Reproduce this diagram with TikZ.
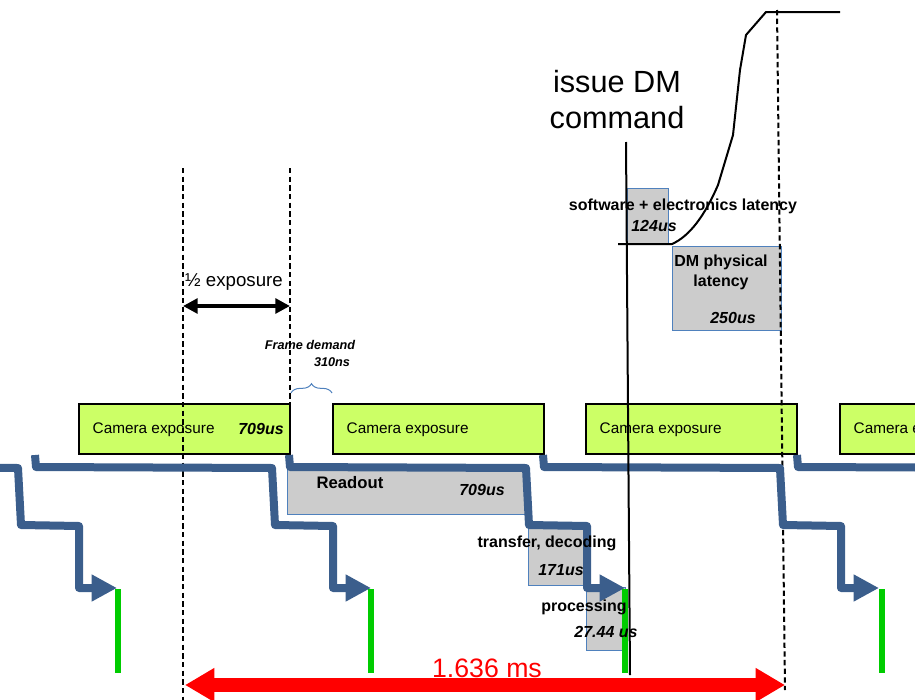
\documentclass[tikz,border=0pt]{standalone}
\usepackage{fontspec}
\setmainfont{Liberation Sans}
\usetikzlibrary{arrows.meta,decorations.pathreplacing}

\definecolor{expgreen}{HTML}{CCFF66}
\definecolor{latgray}{HTML}{CCCCCC}
\definecolor{boxblue}{HTML}{4F81BD}
\definecolor{stepblue}{HTML}{3B5E8C}
\definecolor{markgreen}{HTML}{00CC00}

\tikzset{
    expbox/.style={draw=black,line width=1.5pt,fill=expgreen},
    latbox/.style={draw=boxblue,line width=0.75pt,fill=latgray},
    guide/.style={black,line width=1.5pt,dash pattern=on 4pt off 2.5pt},
    steppath/.style={stepblue,line width=6pt,line join=round,
        -{Triangle[length=19pt,width=19pt]}},
    lbl/.style={font=\fontsize{12}{15}\selectfont\bfseries,inner sep=0pt},
    val/.style={font=\fontsize{12}{15}\selectfont\bfseries\itshape,inner sep=0pt},
}

\begin{document}
\begin{tikzpicture}[x=0.75pt,y=-0.75pt]
    \useasboundingbox (0,0) rectangle (915,700);
    \clip (0,0) rectangle (915,700);

    % latency boxes
    \draw[latbox] (627,188) rectangle (668,244);
    \draw[latbox] (672,246) rectangle (781,330);
    \draw[latbox] (287,465) rectangle (527,514);
    \draw[latbox] (528,524) rectangle (587,585);
    \draw[latbox] (586,587) rectangle (625,650);

    % camera exposures
    \foreach \i/\x in {1/79,2/333,3/586,4/840}{
        \draw[expbox] (\x,404) rectangle ++(211,50);
        \node[anchor=west,font=\fontsize{11.5}{13}\selectfont] (exp\i) at (\x+9,430) {Camera exposure};
    }
    \node[val] (expval) at (261,429) {709us};

    % guide lines
    \draw[guide] (183,168) -- (183,700);
    \draw[guide] (290,168) -- (290,455);
    \draw[guide] (777,10) -- (785,690);

    % data flow steps
    \foreach \x in {-219,35,289,543,797}{
        \draw[steppath] (\x,455) -- (\x+1,467) -- (\x+237,468) -- (\x+240,525)
            -- (\x+298,526) -- (\x+298,588) -- (\x+336,588);
    }

    % frame ready marks
    \foreach \x in {118,371,625,882}
        \draw[markgreen,line width=5pt] (\x,589) -- (\x,673);

    % DM command
    \draw[black,line width=1.5pt] (626,142) -- (630,675);
    \node[font=\fontsize{23}{27}\selectfont,align=center] (issue) at (617,100) {issue DM\\command};
    \draw[black,line width=1.5pt] (618,244) -- (672,244)
        .. controls (690,236) and (705,215) .. (718,185)
        -- (733,135) -- (740,70) -- (746,35) -- (766,12) -- (840,12);

    % texts
    \node[lbl] (swlat) at (683,206) {software + electronics latency};
    \node[val] (swval) at (654,226) {124us};
    \node[lbl,align=center] (dmlat) at (721,272) {DM physical\\latency};
    \node[val] (dmval) at (733,318) {250us};
    \node[lbl,font=\fontsize{12.5}{15}\selectfont\bfseries] (readout) at (350,483) {Readout};
    \node[val] (readval) at (482,490) {709us};
    \node[lbl] (transfer) at (547,543) {transfer, decoding};
    \node[val] (transval) at (561,570) {171us};
    \node[lbl] (proc) at (584,607) {processing};
    \node[val] (procval) at (606,632) {27.44 us};

    % half exposure
    \node[font=\fontsize{14}{16}\selectfont] (half) at (234,282) {½ exposure};
    \draw[black,line width=3pt,{Triangle[length=11pt,width=11pt]}-{Triangle[length=11pt,width=11pt]}]
        (183,306) -- (290,306);

    % frame demand
    \node[font=\fontsize{9.5}{11}\selectfont\bfseries\itshape,inner sep=0pt] (fdem) at (310,345) {Frame demand};
    \node[font=\fontsize{9.5}{11}\selectfont\bfseries\itshape,inner sep=0pt] (fval) at (332,362) {310ns};
    \draw[boxblue,line width=0.75pt,decorate,decoration={brace,amplitude=7pt}]
        (291,393) -- (332,393);

    % frame period
    \draw[red,line width=10pt,{Triangle[length=22pt,width=24pt]}-{Triangle[length=22pt,width=24pt]}]
        (185,685) -- (785,685);
    \node[red,font=\fontsize{20}{22}\selectfont] (period) at (487,668) {1.636 ms};
\end{tikzpicture}
\end{document}
